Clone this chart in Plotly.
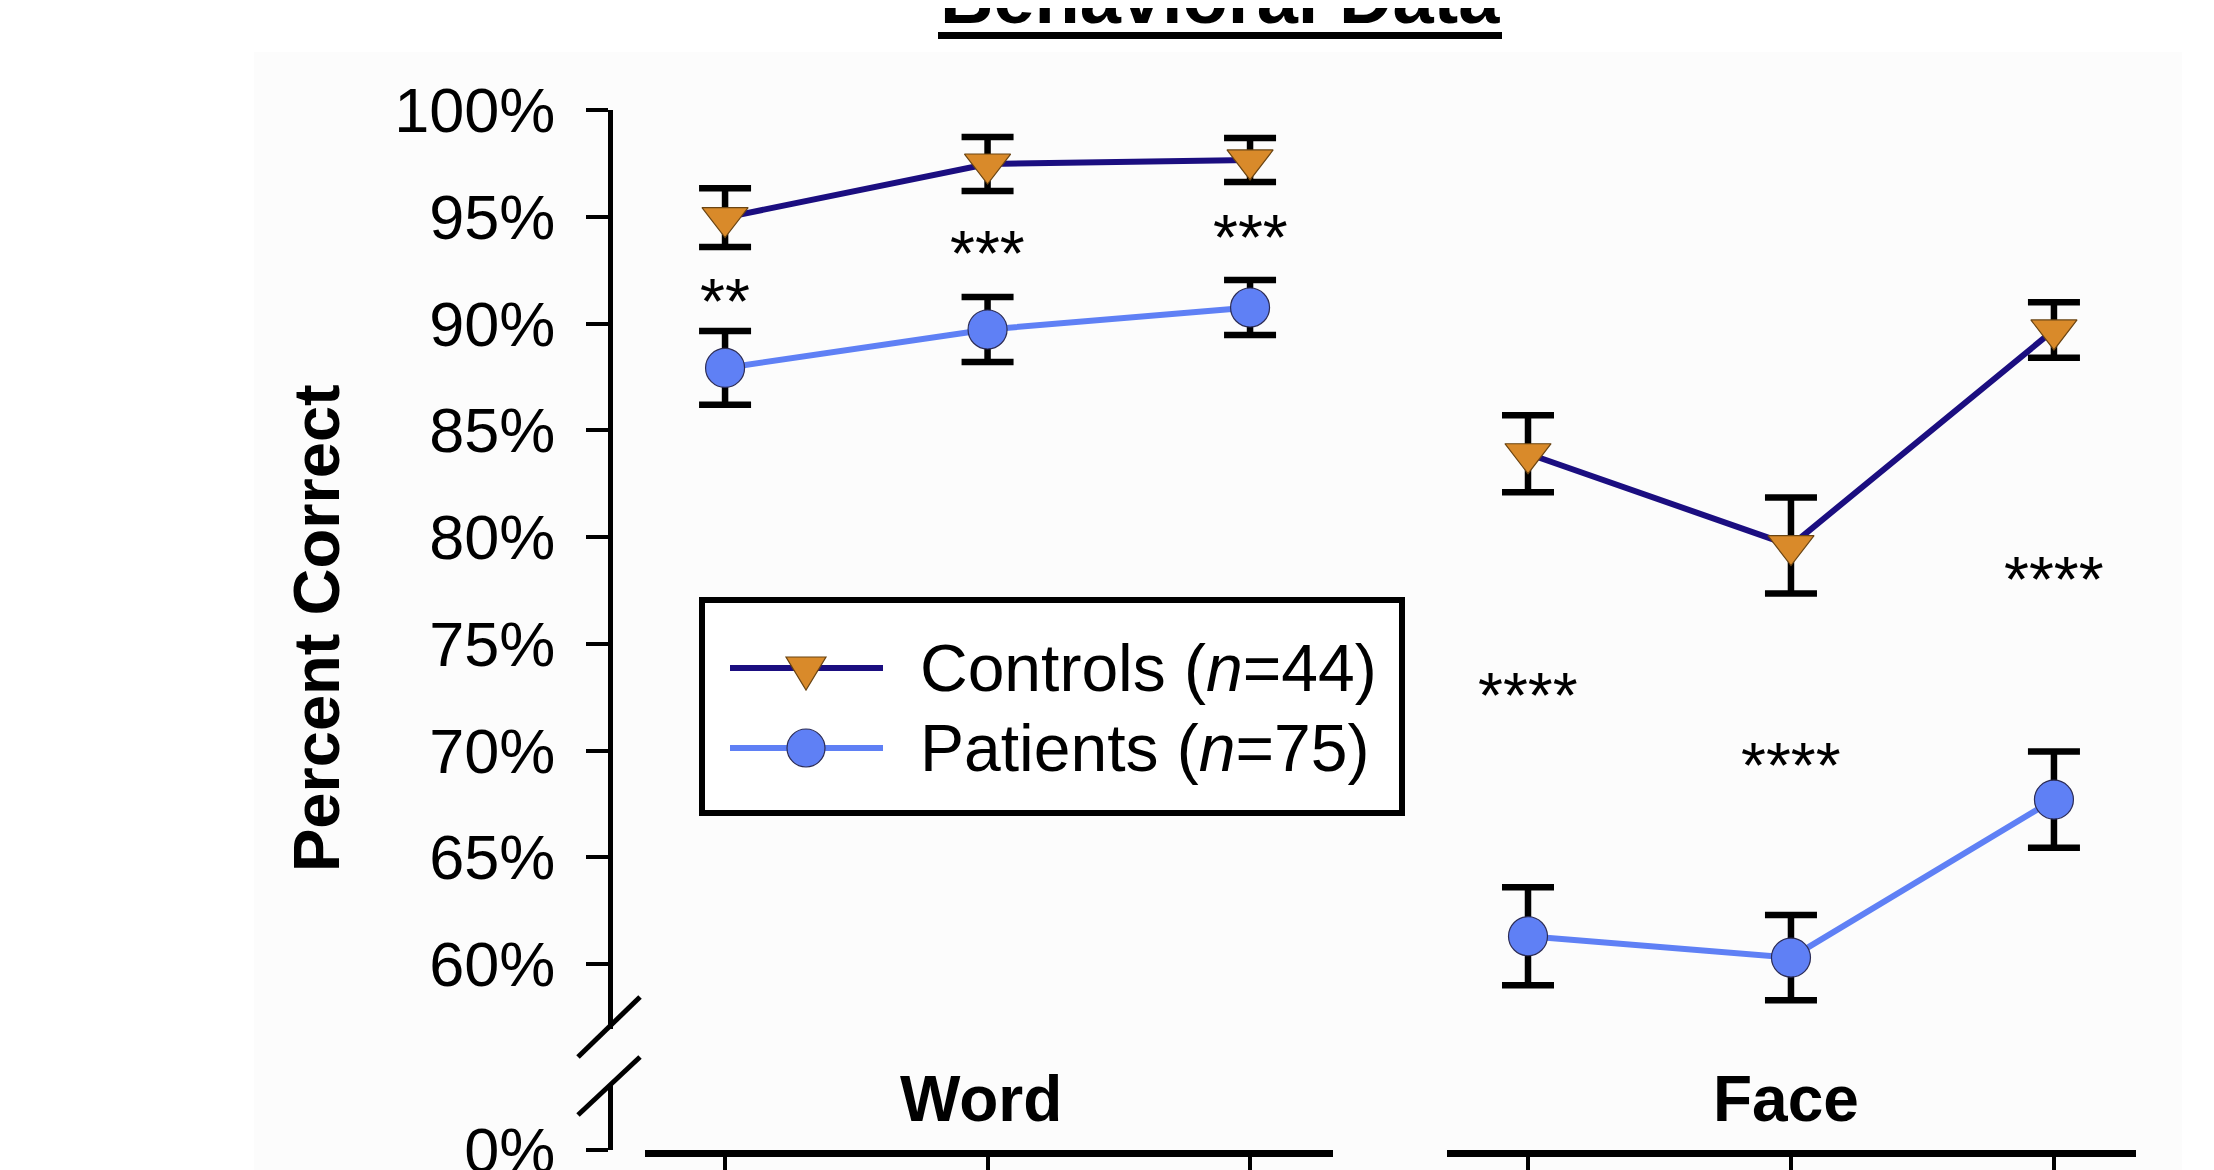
import plotly.graph_objects as go

# ---------------- data ----------------
word_x = [1, 2, 3]
face_x = [1, 2, 3]

controls_word = [94.96, 97.47, 97.66]
controls_word_err = [1.38, 1.26, 1.03]
patients_word = [87.92, 89.72, 90.75]
patients_word_err = [1.73, 1.52, 1.29]

controls_face = [83.9, 79.6, 89.7]
controls_face_err = [1.8, 2.25, 1.3]
patients_face = [61.3, 60.3, 67.7]
patients_face_err = [2.3, 2.0, 2.25]

sig_word = ["**", "***", "***"]
sig_word_y = [91.38, 93.63, 94.38]
sig_face = ["****", "****", "****"]
sig_face_y = [72.93, 69.65, 78.36]

upper_ticks = [60, 65, 70, 75, 80, 85, 90, 95, 100]
lower_ticks = [0]

group_labels = ["Word", "Face"]
series_names = ["Controls (<i>n</i>=44)", "Patients (<i>n</i>=75)"]
title_text = "Behavioral Data"
y_title = "Percent Correct"

# ---------------- style ----------------
W, H = 2214, 1170
OFF = 8  # page body margin
FONT = "Arial, Liberation Sans, sans-serif"
NAVY = "#1b0e80"
ORANGE = "#d98a2a"
LBLUE = "#5f80f5"


def px(x):
    return (x - OFF) / W


def py(y):
    return 1 - (y - OFF) / H


fig = go.Figure()

err_style = dict(type="data", symmetric=True, color="black", thickness=6.5, width=26)


def add_series(x, y, err, xaxis, color, symbol, mcolor, msize, mline):
    fig.add_trace(go.Scatter(
        x=x, y=y, xaxis=xaxis, yaxis="y", mode="lines+markers",
        line=dict(color=color, width=6),
        marker=dict(symbol=symbol, size=msize, color=mcolor,
                    line=dict(color=mline, width=1.2)),
        error_y=dict(array=err, **err_style),
        cliponaxis=False, showlegend=False, hoverinfo="skip",
    ))


add_series(word_x, controls_word, controls_word_err, "x", NAVY, "triangle-down", ORANGE, 40, "#6a4412")
add_series(word_x, patients_word, patients_word_err, "x", LBLUE, "circle", LBLUE, 39, "#2c2c55")
add_series(face_x, controls_face, controls_face_err, "x2", NAVY, "triangle-down", ORANGE, 40, "#6a4412")
add_series(face_x, patients_face, patients_face_err, "x2", LBLUE, "circle", LBLUE, 39, "#2c2c55")

# empty traces so that the lower (0 %) axis segment forms real subplots
for xa in ["x", "x2"]:
    fig.add_trace(go.Scatter(x=[None], y=[None], xaxis=xa, yaxis="y2", mode="markers",
                             showlegend=False, hoverinfo="skip"))

y_upper_px = (110, 1029)   # 100% -> 110 px
y_per_pct = (964 - 110) / 40.0
y_upper_min = 100 - (y_upper_px[1] - y_upper_px[0]) / y_per_pct
lower_px = (1085, 1150)
lower_max = (lower_px[1] - lower_px[0]) / y_per_pct

xaxis_common = dict(
    showline=True, linewidth=7, linecolor="black", ticks="outside", ticklen=30,
    tickwidth=4, tickcolor="black", tickvals=[1, 2, 3], showticklabels=False,
    showgrid=False, zeroline=False, anchor="y2", fixedrange=True, automargin=False,
)
yaxis_common = dict(
    showline=True, linewidth=5, linecolor="black", ticks="outside", ticklen=22,
    tickwidth=4, tickcolor="black", showgrid=False, zeroline=False,
    anchor="free", position=px(610), tickmode="array",
    tickfont=dict(family=FONT, size=63, color="black"),
    ticklabelstandoff=18, ticklabeloverflow="allow", fixedrange=True, automargin=False,
)

fig.update_layout(
    width=W, height=H,
    margin=dict(l=0, r=0, t=0, b=0, pad=0, autoexpand=False),
    paper_bgcolor="white", plot_bgcolor="rgba(0,0,0,0)",
    showlegend=False,
    xaxis=dict(domain=[px(645), px(1333)], range=[0.695, 3.316], **xaxis_common),
    xaxis2=dict(domain=[px(1447), px(2136)], range=[0.692, 3.312], **xaxis_common),
    yaxis=dict(domain=[py(y_upper_px[1]), py(y_upper_px[0])], range=[y_upper_min, 100],
               tickvals=upper_ticks, ticktext=[f"{v}%" for v in upper_ticks], **yaxis_common),
    yaxis2=dict(domain=[py(lower_px[1]), py(lower_px[0])], range=[0, lower_max],
                tickvals=lower_ticks, ticktext=[f"{v}%" for v in lower_ticks], **yaxis_common),
)

shapes = []
# faint background panel
shapes.append(dict(type="rect", xref="paper", yref="paper", x0=px(254), x1=px(2182),
                   y0=0, y1=py(52), fillcolor="#fcfcfc", line=dict(width=0), layer="below"))
# axis break marks
for (x0, y0, x1, y1) in [(578, 1057, 640, 997), (578, 1115, 640, 1057)]:
    shapes.append(dict(type="line", xref="paper", yref="paper", x0=px(x0), y0=py(y0),
                       x1=px(x1), y1=py(y1), line=dict(color="black", width=5)))
# title underline
shapes.append(dict(type="line", xref="paper", yref="paper", x0=px(938), x1=px(1502),
                   y0=py(35.5), y1=py(35.5), line=dict(color="black", width=7)))
# legend box
shapes.append(dict(type="rect", xref="paper", yref="paper", x0=px(702), x1=px(1402),
                   y0=py(813), y1=py(600), line=dict(color="black", width=6),
                   fillcolor="white"))
# legend samples
leg_rows = [668, 748]
leg_colors = [NAVY, LBLUE]
for ly, lc in zip(leg_rows, leg_colors):
    shapes.append(dict(type="line", xref="paper", yref="paper", x0=px(730), x1=px(883),
                       y0=py(ly), y1=py(ly), line=dict(color=lc, width=6)))
mx = px(806)
shapes.append(dict(type="path", xref="paper", yref="paper", xsizemode="pixel", ysizemode="pixel",
                   xanchor=mx, yanchor=py(leg_rows[0]),
                   path="M -20,11 L 20,11 L 0,-22 Z",
                   fillcolor=ORANGE, line=dict(color="#6a4412", width=1.2)))
shapes.append(dict(type="circle", xref="paper", yref="paper", xsizemode="pixel", ysizemode="pixel",
                   xanchor=mx, yanchor=py(leg_rows[1]), x0=-19, x1=19, y0=-19, y1=19,
                   fillcolor=LBLUE, line=dict(color="#2c2c55", width=1.2)))
fig.update_layout(shapes=shapes)

ann = []
# title
ann.append(dict(text="<b>" + title_text + "</b>", xref="paper", yref="paper",
                x=px(1220), y=py(41), xanchor="center", yanchor="bottom", showarrow=False,
                font=dict(family=FONT, size=74, color="black")))
# y title
ann.append(dict(text="<b>" + y_title + "</b>", xref="paper", yref="paper",
                x=px(316), y=py(628), xanchor="center", yanchor="middle", textangle=-90,
                showarrow=False, font=dict(family=FONT, size=65, color="black")))
# group labels
for lab, cx in zip(group_labels, [981, 1786]):
    ann.append(dict(text="<b>" + lab + "</b>", xref="paper", yref="paper",
                    x=px(cx), y=py(1099), xanchor="center", yanchor="middle",
                    showarrow=False, font=dict(family=FONT, size=64, color="black")))
# significance stars
for xs, labs, ys, xr in [(word_x, sig_word, sig_word_y, "x"), (face_x, sig_face, sig_face_y, "x2")]:
    for xv, lab, yv in zip(xs, labs, ys):
        ann.append(dict(text=lab, xref=xr, yref="y", x=xv, y=yv, xanchor="center",
                        yanchor="middle", yshift=-8, showarrow=False,
                        font=dict(family=FONT, size=64, color="black")))
# legend texts
for name, ly in zip(series_names, leg_rows):
    ann.append(dict(text=name, xref="paper", yref="paper", x=px(918), y=py(ly),
                    xanchor="left", yanchor="middle", showarrow=False,
                    font=dict(family=FONT, size=66, color="black")))
fig.update_layout(annotations=ann)

fig.write_html("out.html")
